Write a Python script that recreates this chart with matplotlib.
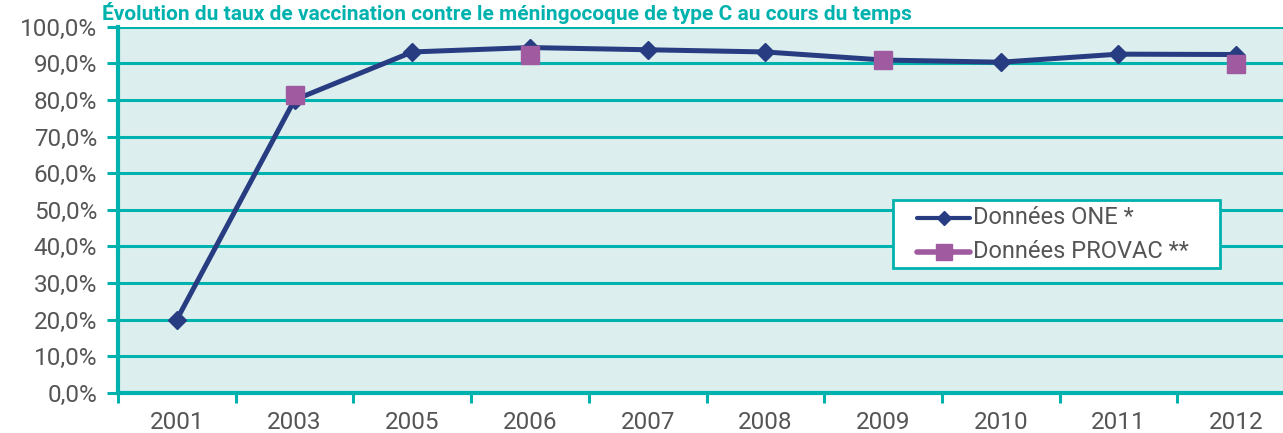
import matplotlib
matplotlib.use("Agg")
import matplotlib.pyplot as plt
from matplotlib.lines import Line2D
from matplotlib.patches import Rectangle
import numpy as np

plt.rcParams['font.family'] = ['Roboto', 'DejaVu Sans']

years = ["2001", "2003", "2005", "2006", "2007", "2008", "2009", "2010", "2011", "2012"]
one_rate = [20.0, 80.0, 93.1, 94.3, 93.7, 93.1, 90.9, 90.3, 92.5, 92.4]
provac_rate = [np.nan, 81.3, np.nan, 92.3, np.nan, np.nan, 91.0, np.nan, np.nan, 89.7]
y_ticks = [0, 10, 20, 30, 40, 50, 60, 70, 80, 90, 100]
series_names = ["Données ONE *", "Données PROVAC **"]
title = "Évolution du taux de vaccination contre le méningocoque de type C au cours du temps"

TEAL = "#00B2AE"
NAVY = "#283C82"
MAUVE = "#A05AA0"
BG = "#DCEFEE"
GREY = "#555555"

W, H = 1283, 433
fig = plt.figure(figsize=(W / 100, H / 100), dpi=100)


def fx(px):
    return px / W


def fy(py):
    return 1 - py / H


left, right, top, bottom = 118, 1295, 26.7, 392.7
ax = fig.add_axes([fx(left), fy(bottom), (right - left) / W, (bottom - top) / H])
ax.set_facecolor(BG)

x = np.arange(len(years))
ax.plot(x, one_rate, color=NAVY, lw=3.6, marker="D", ms=9, mfc=NAVY, mec=NAVY,
        zorder=3, solid_joinstyle="round")
ax.plot(x, provac_rate, color=MAUVE, lw=3.6, marker="s", ms=13, mfc=MAUVE, mec=MAUVE,
        zorder=4)

ax.set_xlim(-0.5, len(years) - 0.5)
ax.set_ylim(0, 100)
ax.set_yticks(y_ticks)
ax.set_yticklabels([f"{v:.1f}%".replace(".", ",") for v in y_ticks])
ax.yaxis.grid(True, color=TEAL, lw=2.2)
ax.set_axisbelow(True)

ax.set_xticks(x)
ax.set_xticklabels(years)
ax.set_xticks(np.arange(-0.5, len(years)), minor=True)
ax.tick_params(axis="x", which="major", length=0, pad=13, labelsize=17.5, labelcolor=GREY)
ax.tick_params(axis="x", which="minor", length=7, width=2.2, color=TEAL, direction="out")
ax.tick_params(axis="y", length=8, width=2.2, color=TEAL, pad=7, labelsize=17.5, labelcolor=GREY)

for s in ("top", "right"):
    ax.spines[s].set_visible(False)
for s in ("left", "bottom"):
    ax.spines[s].set_color(TEAL)
    ax.spines[s].set_linewidth(3)

# legend box, drawn in figure coordinates
fig.add_artist(Rectangle((fx(893), fy(268)), (1220 - 893) / W, (268 - 200) / H,
                         transform=fig.transFigure, facecolor="white", edgecolor=TEAL,
                         lw=2, zorder=10))
legend_rows = [
    (218, NAVY, "D", 7.5, 3.0),
    (251.5, MAUVE, "s", 11, 4.0),
]
for (row_y, col, mk, ms, lw), name in zip(legend_rows, series_names):
    fig.add_artist(Line2D([fx(917), fx(970)], [fy(row_y), fy(row_y)], transform=fig.transFigure,
                          color=col, lw=lw, solid_capstyle="round", zorder=11))
    fig.add_artist(Line2D([fx(943.5)], [fy(row_y)], transform=fig.transFigure, color=col,
                          marker=mk, ms=ms, mec=col, mfc=col, ls="none", zorder=12))
    fig.text(fx(973), fy(row_y), name, ha="left", va="center", fontsize=17,
             color=GREY, zorder=12)

fig.text(fx(102), fy(20), title, ha="left", va="baseline", color=TEAL, fontsize=15,
         fontweight="bold")

fig.savefig("out.png", dpi=100)
